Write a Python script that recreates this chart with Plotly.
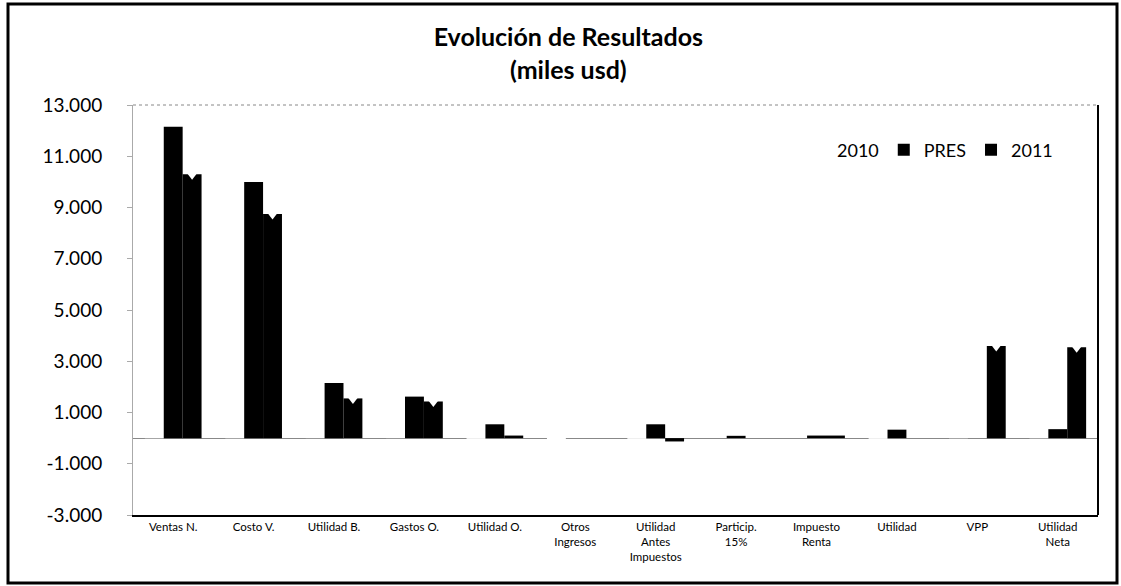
import plotly.graph_objects as go

categories = ["Ventas N.", "Costo V.", "Utilidad B.", "Gastos O.", "Utilidad O.",
              "Otros<br>Ingresos", "Utilidad<br>Antes<br>Impuestos", "Particip.<br>15%",
              "Impuesto<br>Renta", "Utilidad", "VPP", "Utilidad<br>Neta"]
vals_2010 = [8650, 8200, 450, 650, -200, 50, -150, 0, 0, -350, 2950, 2600]
vals_pres = [12150, 10000, 2150, 1620, 540, 0, 540, 90, 100, 330, 0, 350]
vals_2011 = [10300, 8750, 1550, 1430, 100, 0, -130, 0, 100, 0, 3600, 3550]
y_ticks = [-3000, -1000, 1000, 3000, 5000, 7000, 9000, 11000, 13000]
y_ticktext = ["-3.000", "-1.000", "1.000", "3.000", "5.000", "7.000", "9.000", "11.000", "13.000"]

FONT = "Lato"
W = 0.235
idx = list(range(len(categories)))

fig = go.Figure()
fig.add_trace(go.Bar(name="2010", x=[i - W for i in idx], y=vals_2010, width=W,
                     marker=dict(color="white", line=dict(width=0))))
fig.add_trace(go.Bar(name="PRES", x=idx, y=vals_pres, width=W,
                     marker=dict(color="black", line=dict(width=0))))
fig.add_trace(go.Bar(name="2011", x=[i + W for i in idx], y=vals_2011, width=W,
                     marker=dict(color="black", line=dict(width=0))))
# white notch markers on top of 2011 bars
mx = [i + W for i, v in zip(idx, vals_2011) if v > 1000]
my = [v for v in vals_2011 if v > 1000]
fig.add_trace(go.Scatter(x=mx, y=my, mode="markers", showlegend=False, hoverinfo="skip",
                         marker=dict(symbol="triangle-down", size=11, color="white",
                                     line=dict(width=0))))

L, R, T, B = 133, 1098, 105, 515
pw, ph = R - L, B - T

def px(x):
    return (x - L) / pw

def py(y):
    return (B - y) / ph

fig.update_layout(
    width=1121, height=586,
    margin=dict(l=L, r=1121 - R, t=T, b=586 - B),
    paper_bgcolor="white", plot_bgcolor="white",
    barmode="overlay",
    font=dict(family=FONT, color="black"),
    title=dict(text="<b>Evolución de Resultados<br>(miles usd)</b>",
               x=0.507, xref="container", xanchor="center",
               y=1 - 46 / 586, yref="container", yanchor="top",
               font=dict(family=FONT, size=25, color="black")),
    legend=dict(orientation="h", x=px(1058), xanchor="right", y=py(150), yanchor="middle",
                font=dict(family=FONT, size=18, color="black"), itemwidth=30,
                bgcolor="rgba(0,0,0,0)", traceorder="normal"),
    showlegend=True,
    xaxis=dict(range=[-0.5, len(categories) - 0.5], tickvals=idx, ticktext=categories,
               showgrid=False, zeroline=False, showline=True, linecolor="black", linewidth=2,
               ticks="", tickfont=dict(family=FONT, size=11.5, color="black"),
               fixedrange=True),
    yaxis=dict(range=[-3000, 13000], tickvals=y_ticks, ticktext=y_ticktext,
               showgrid=False, zeroline=True, zerolinecolor="#888", zerolinewidth=1,
               showline=True, linecolor="#aaa", linewidth=1,
               ticks="outside", ticklen=5, tickcolor="#aaa",
               ticklabelstandoff=21,
               tickfont=dict(family=FONT, size=19, color="black"),
               fixedrange=True),
    shapes=[
        dict(type="line", xref="paper", yref="paper", x0=1, x1=1, y0=0, y1=1,
             line=dict(color="black", width=2)),
        dict(type="line", xref="paper", yref="paper", x0=0, x1=1, y0=1, y1=1,
             line=dict(color="#888", width=1, dash="dot")),
        dict(type="rect", xref="paper", yref="paper",
             x0=px(8), x1=px(1117), y0=py(583), y1=py(4),
             line=dict(color="black", width=3), fillcolor="rgba(0,0,0,0)", layer="above"),
    ],
)

fig.write_html("out.html", config={"displayModeBar": False},
               post_script="document.body.style.margin='0';document.body.style.overflow='hidden';")
